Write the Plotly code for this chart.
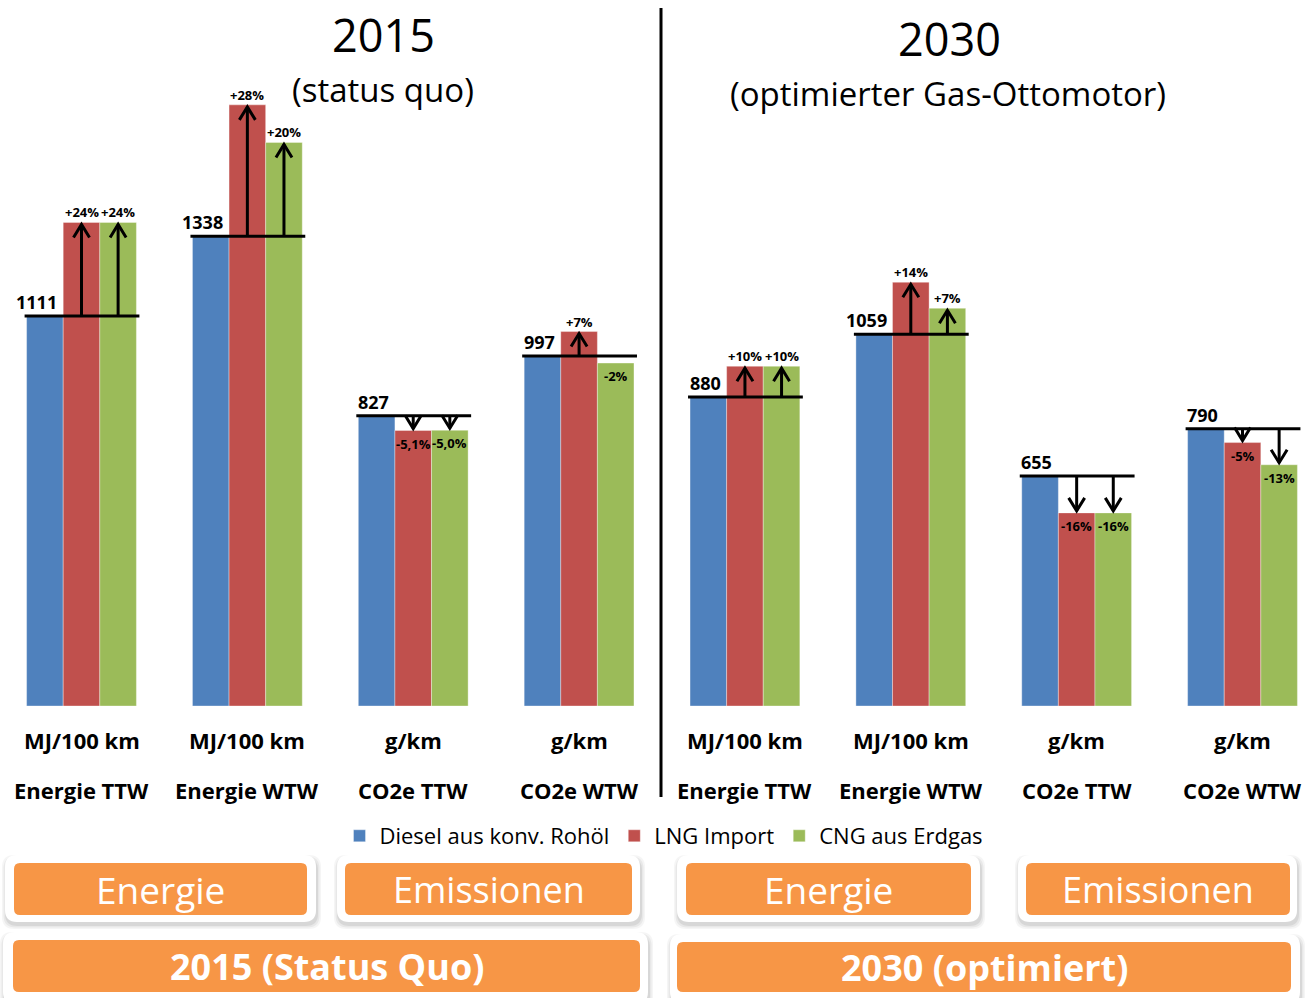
import plotly.graph_objects as go

W, H = 1308, 998

# ---------------- data ----------------
categories = ["Energie TTW", "Energie WTW", "CO2e TTW", "CO2e WTW",
              "Energie TTW", "Energie WTW", "CO2e TTW", "CO2e WTW"]
units = ["MJ/100 km", "MJ/100 km", "g/km", "g/km",
         "MJ/100 km", "MJ/100 km", "g/km", "g/km"]
diesel = [1111, 1338, 827, 997, 880, 1059, 655, 790]
lng_pct = [24, 28, -5.1, 7, 10, 14, -16, -5]
cng_pct = [24, 20, -5.0, -2, 10, 7, -16, -13]
lng_labels = ["+24%", "+28%", "-5,1%", "+7%", "+10%", "+14%", "-16%", "-5%"]
cng_labels = ["+24%", "+20%", "-5,0%", "-2%", "+10%", "+7%", "-16%", "-13%"]
series_names = ["Diesel aus konv. Rohöl", "LNG Import", "CNG aus Erdgas"]
colors = ["#4F81BD", "#C0504D", "#9BBB59"]

lng = [d * (1 + p / 100) for d, p in zip(diesel, lng_pct)]
cng = [d * (1 + p / 100) for d, p in zip(diesel, cng_pct)]

FONT = "Open Sans"

# ---------------- geometry helpers ----------------
x0_px, step_px = 81.5, 165.86
base_px, scale = 706, 0.351
xr = [-x0_px / step_px, (W - x0_px) / step_px]
yr = [-(H - base_px) / scale, base_px / scale]
bw = 0.2207  # width of one bar in category units
pxx = 1 / step_px  # one pixel in x data units
pxy = 1 / scale    # one pixel in y data units


def PX(px):
    return px / W


def PY(py):
    return 1 - py / H


xs = list(range(len(categories)))

fig = go.Figure()
for name, vals, col in zip(series_names, [diesel, lng, cng], colors):
    fig.add_trace(go.Bar(
        x=xs, y=vals, name=name,
        marker=dict(color=col, line=dict(color="rgba(255,255,255,0.35)", width=1)),
        hoverinfo="skip",
    ))

shapes = []
annotations = []

for i, d in enumerate(diesel):
    # horizontal reference line at diesel level
    shapes.append(dict(type="line", xref="x", yref="y",
                       x0=i - 1.5 * bw - 2 * pxx, x1=i + 1.5 * bw + 3 * pxx,
                       y0=d, y1=d, line=dict(color="black", width=3)))
    # diesel value label
    annotations.append(dict(x=i - 0.5 * bw - 4 * pxx, y=d, xref="x", yref="y",
                            text=f"<b>{d}</b>", showarrow=False,
                            xanchor="right", yanchor="bottom", yshift=0,
                            font=dict(family=FONT, size=18, color="black")))
    # arrows & percentage labels
    for off, v, lab in [(0, lng[i], lng_labels[i]), (bw, cng[i], cng_labels[i])]:
        xc = i + off
        up = v > d
        sgn = 1 if up else -1
        tip = v - sgn * 2 * pxy
        if abs(v - d) > 30:
            shapes.append(dict(type="line", xref="x", yref="y",
                               x0=xc, x1=xc, y0=d, y1=tip,
                               line=dict(color="black", width=3)))
            hw, hh = 8 * pxx, 13 * pxy
            path = (f"M {xc - hw},{tip - sgn * hh} L {xc},{tip} "
                    f"L {xc + hw},{tip - sgn * hh}")
            shapes.append(dict(type="path", xref="x", yref="y", path=path,
                               line=dict(color="black", width=3)))
        if up:
            annotations.append(dict(x=xc, y=v, xref="x", yref="y",
                                    text=f"<b>{lab}</b>", showarrow=False,
                                    xanchor="center", yanchor="bottom", yshift=-1,
                                    font=dict(family=FONT, size=13, color="black")))
        else:
            annotations.append(dict(x=xc, y=v, xref="x", yref="y",
                                    text=f"<b>{lab}</b>", showarrow=False,
                                    xanchor="center", yanchor="top", yshift=-2,
                                    font=dict(family=FONT, size=13, color="black")))
    # category labels
    annotations.append(dict(x=i, y=PY(740), xref="x", yref="paper",
                            text=f"<b>{units[i]}</b>", showarrow=False,
                            xanchor="center", yanchor="middle",
                            font=dict(family=FONT, size=22, color="black")))
    annotations.append(dict(x=i, y=PY(790), xref="x", yref="paper",
                            text=f"<b>{categories[i]}</b>", showarrow=False,
                            xanchor="center", yanchor="middle",
                            font=dict(family=FONT, size=22, color="black")))

# divider
shapes.append(dict(type="line", xref="paper", yref="paper",
                   x0=PX(661), x1=PX(661), y0=PY(8), y1=PY(797),
                   line=dict(color="black", width=3)))

# titles
titles = [("2015", 383, 35, 45), ("(status quo)", 383, 89, 33),
          ("2030", 949, 39, 45), ("(optimierter Gas-Ottomotor)", 948, 93, 33)]
for t, cx, cy, fs in titles:
    annotations.append(dict(x=PX(cx), y=PY(cy), xref="paper", yref="paper",
                            text=t, showarrow=False, xanchor="center", yanchor="middle",
                            font=dict(family=FONT, size=fs, color="black")))


def rrect(x0, y0, x1, y1, r):
    rx, ry = r / W, r / H
    a, b, c, e = PX(x0), PY(y0), PX(x1), PY(y1)
    return (f"M {a + rx},{b} L {c - rx},{b} Q {c},{b} {c},{b - ry} "
            f"L {c},{e + ry} Q {c},{e} {c - rx},{e} L {a + rx},{e} "
            f"Q {a},{e} {a},{e + ry} L {a},{b - ry} Q {a},{b} {a + rx},{b} Z")


boxes = [
    ("Energie", False, (5, 855, 316, 922), (14, 863, 307, 915), 37),
    ("Emissionen", False, (337, 855, 640, 922), (345, 863, 632, 915), 36),
    ("Energie", False, (677, 855, 980, 922), (686, 863, 971, 915), 37),
    ("Emissionen", False, (1018, 855, 1297, 922), (1026, 863, 1290, 915), 36),
    ("2015 (Status Quo)", True, (3, 932, 648, 1004), (13, 940, 640, 992), 36),
    ("2030 (optimiert)", True, (670, 934, 1300, 1004), (677, 942, 1291, 992), 36),
]
for text, bold, outer, inner, fs in boxes:
    ox0, oy0, ox1, oy1 = outer
    for k, op in [(4, 0.04), (2.5, 0.05), (1, 0.07)]:
        shapes.append(dict(type="path", xref="paper", yref="paper",
                           path=rrect(ox0 - k + 1, oy0 - k + 4, ox1 + k + 1, oy1 + k + 3, 12),
                           fillcolor=f"rgba(0,0,0,{op})", line=dict(width=0)))
    shapes.append(dict(type="path", xref="paper", yref="paper",
                       path=rrect(*outer, 12), fillcolor="white", line=dict(width=0)))
    shapes.append(dict(type="path", xref="paper", yref="paper",
                       path=rrect(*inner, 6), fillcolor="#F79646", line=dict(width=0)))
    cx = (inner[0] + inner[2]) / 2
    cy = (inner[1] + inner[3]) / 2
    annotations.append(dict(x=PX(cx), y=PY(cy), xref="paper", yref="paper",
                            text=f"<b>{text}</b>" if bold else text, showarrow=False,
                            xanchor="center", yanchor="middle",
                            font=dict(family=FONT, size=fs, color="white")))

fig.update_layout(
    width=W, height=H,
    margin=dict(l=0, r=0, t=0, b=0),
    paper_bgcolor="white", plot_bgcolor="white",
    barmode="group", bargap=0.338, bargroupgap=0,
    xaxis=dict(range=xr, visible=False, fixedrange=True),
    yaxis=dict(range=yr, visible=False, fixedrange=True),
    showlegend=True,
    legend=dict(orientation="h", x=PX(664), xanchor="center", y=PY(836), yanchor="middle",
                font=dict(family=FONT, size=22, color="black"),
                bgcolor="rgba(0,0,0,0)", itemclick=False, itemdoubleclick=False),
    shapes=shapes,
    annotations=annotations,
)

fig.write_html("out.html")
